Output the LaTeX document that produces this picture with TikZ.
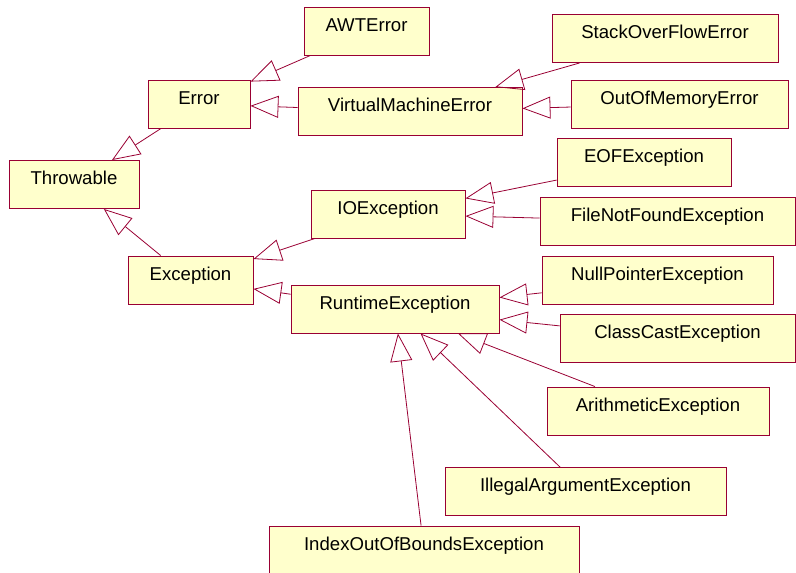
\documentclass[tikz,border=0pt]{standalone}
\usepackage{fontspec}
\setmainfont{Liberation Sans}
\usetikzlibrary{arrows.meta}
\definecolor{classfill}{HTML}{FFFFCC}
\definecolor{classline}{HTML}{990033}
\tikzset{
  cls/.style={draw=classline, fill=classfill, line width=0.9pt, rectangle,
    inner sep=0pt, text height=24pt, text depth=24pt, anchor=center,
    font=\fontsize{18.6}{22}\selectfont},
  inherit/.style={draw=classline, line width=0.8pt,
    -{Triangle[open, length=28pt, width=22pt, line width=0.8pt]}}
}
\begin{document}
\begin{tikzpicture}[x=1pt, y=-1pt]
  \useasboundingbox (0,0) rectangle (796,573);
  % class boxes
  \node[cls, minimum width=125pt] (awt)  at (366.5,31)   {AWTError};
  \node[cls, minimum width=226pt] (sof)  at (665,38.5)   {StackOverFlowError};
  \node[cls, minimum width=102pt] (err)  at (199,104)    {Error};
  \node[cls, minimum width=224pt] (vme)  at (410,111.5)  {VirtualMachineError};
  \node[cls, minimum width=217pt] (oom)  at (679.5,104)  {OutOfMemoryError};
  \node[cls, minimum width=130pt] (thr)  at (74,184.5)   {Throwable};
  \node[cls, minimum width=174pt] (eof)  at (644,162.5)  {EOFException};
  \node[cls, minimum width=154pt] (io)   at (388,214)    {IOException};
  \node[cls, minimum width=255pt] (fnf)  at (667.5,221.5){FileNotFoundException};
  \node[cls, minimum width=125pt] (exc)  at (190.5,280)  {Exception};
  \node[cls, minimum width=231pt] (npe)  at (657.5,280)  {NullPointerException};
  \node[cls, minimum width=208pt] (rte)  at (395,309)    {RuntimeException};
  \node[cls, minimum width=235pt] (cce)  at (677.5,338)  {ClassCastException};
  \node[cls, minimum width=222pt] (arith) at (658,411)   {ArithmeticException};
  \node[cls, minimum width=281pt] (iae)  at (585.5,491.5){IllegalArgumentException};
  \node[cls, minimum width=310pt] (ioob) at (424,550)    {IndexOutOfBoundsException};
  % generalisation links
  \draw[inherit] (awt) -- (err);
  \draw[inherit] (vme) -- (err);
  \draw[inherit] (err) -- (thr);
  \draw[inherit] (sof) -- (vme);
  \draw[inherit] (oom) -- (vme);
  \draw[inherit] (eof) -- (io);
  \draw[inherit] (fnf) -- (io);
  \draw[inherit] (io) -- (exc);
  \draw[inherit] (exc) -- (thr);
  \draw[inherit] (rte) -- (exc);
  \draw[inherit] (npe) -- (rte);
  \draw[inherit] (cce) -- (rte);
  \draw[inherit] (arith) -- (rte);
  \draw[inherit] (iae) -- (rte);
  \draw[inherit] (ioob) -- (rte);
\end{tikzpicture}
\end{document}
